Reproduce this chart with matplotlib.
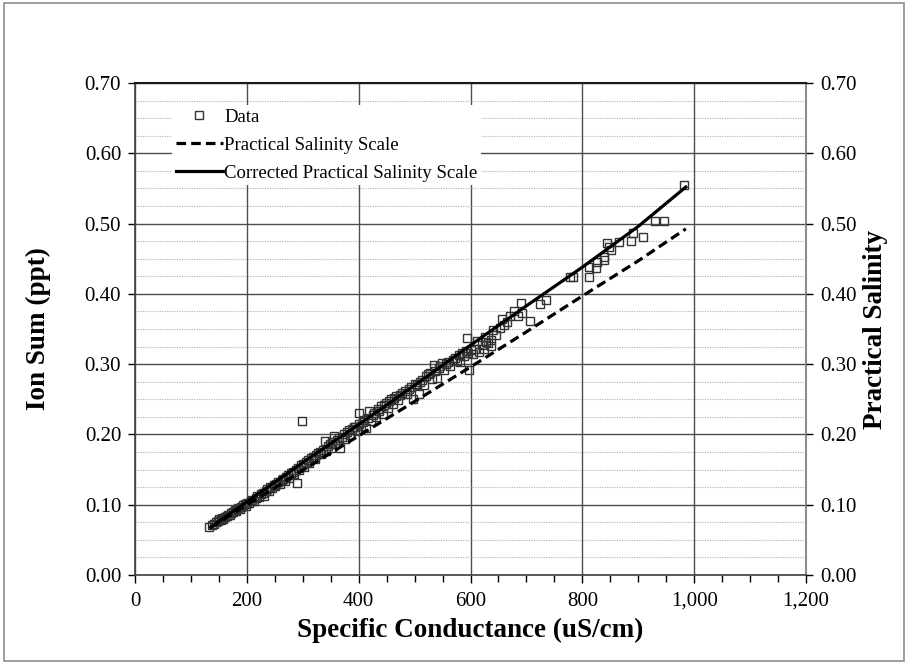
import matplotlib
matplotlib.use("Agg")
import matplotlib.pyplot as plt
from matplotlib.ticker import MultipleLocator, FuncFormatter
from matplotlib.patches import Rectangle

plt.rcParams['font.family'] = ['Liberation Serif', 'DejaVu Serif']

# Measured samples: specific conductance (uS/cm) and ion sum (ppt)
sc = [133, 138, 142, 145, 148, 150, 153, 156, 158, 161, 164, 167, 170, 172, 175,
      178, 181, 184, 187, 190, 193, 196, 198, 201, 204, 207, 210, 213, 216, 219,
      222, 225, 228, 231, 234, 236, 239, 242, 245, 248, 250, 253, 256, 259, 262,
      265, 268, 270, 273, 276, 279, 282, 285, 288, 289, 291, 294, 297, 299, 300,
      303, 306, 309, 312, 315, 318, 321, 324, 327,
      330, 333, 336, 339, 342, 345, 348, 350, 353, 355, 358, 361, 364, 367, 370,
      373, 376, 379, 382, 385, 388, 391, 394, 397, 400, 401, 404, 407, 410, 413,
      416, 419, 422, 425, 428, 431, 434, 437, 440, 443, 446, 449, 452, 455, 458,
      461, 464, 467, 470, 474, 477,
      482, 486, 490, 494, 498, 501, 504, 507, 510, 514, 517, 520, 524, 528, 531,
      534, 537, 540, 543, 546, 549, 552, 556, 560, 564, 568, 572, 576, 580, 581,
      585, 589, 592, 594, 596, 598, 600, 604, 608,
      612, 616, 620, 624, 626, 628, 632, 636, 636, 640, 645, 653, 656, 660, 665,
      670, 677, 685, 690, 692, 707, 724, 735,
      778, 784, 811, 812, 825, 826, 838, 839, 844, 848, 852, 866, 887, 890, 909,
      930, 946, 981]
ion = [0.068, 0.071, 0.073, 0.075, 0.077, 0.079, 0.078, 0.081, 0.080, 0.083, 0.084, 0.086, 0.085, 0.088, 0.089,
       0.092, 0.091, 0.095, 0.094, 0.097, 0.099, 0.101, 0.098, 0.103, 0.102, 0.105, 0.107, 0.106, 0.110, 0.112,
       0.111, 0.115, 0.117, 0.113, 0.120, 0.122, 0.119, 0.125, 0.124, 0.128, 0.126, 0.130, 0.132, 0.129, 0.135,
       0.137, 0.134, 0.140, 0.142, 0.138, 0.145, 0.147, 0.144, 0.150, 0.131, 0.152, 0.149, 0.156, 0.219, 0.158,
       0.154, 0.161, 0.163, 0.160, 0.166, 0.168, 0.165, 0.171, 0.173,
       0.175, 0.172, 0.178, 0.190, 0.176, 0.183, 0.186, 0.181, 0.189, 0.198, 0.187, 0.192, 0.195, 0.181, 0.197,
       0.201, 0.194, 0.203, 0.206, 0.199, 0.208, 0.211, 0.210, 0.205, 0.215, 0.230, 0.212, 0.218, 0.221, 0.209,
       0.224, 0.234, 0.219, 0.228, 0.231, 0.225, 0.236, 0.233, 0.240, 0.229, 0.242, 0.245, 0.238, 0.247, 0.250,
       0.244, 0.252, 0.255, 0.249, 0.256, 0.259,
       0.262, 0.258, 0.265, 0.268, 0.251, 0.272, 0.270, 0.258, 0.275, 0.278, 0.270, 0.283, 0.286, 0.287, 0.279,
       0.299, 0.290, 0.280, 0.294, 0.297, 0.301, 0.291, 0.300, 0.303, 0.298, 0.306, 0.309, 0.304, 0.313, 0.303,
       0.316, 0.311, 0.319, 0.337, 0.316, 0.292, 0.320, 0.315, 0.322,
       0.333, 0.318, 0.327, 0.322, 0.339, 0.331, 0.330, 0.326, 0.335, 0.348, 0.341, 0.351, 0.364, 0.355, 0.360,
       0.368, 0.375, 0.368, 0.387, 0.373, 0.361, 0.386, 0.391,
       0.424, 0.424, 0.424, 0.438, 0.437, 0.446, 0.448, 0.453, 0.473, 0.466, 0.462, 0.474, 0.475, 0.487, 0.481,
       0.504, 0.504, 0.555]

# Salinity curves evaluated over the measured conductance range
curve_sc = [135, 200, 300, 400, 500, 600, 700, 800, 900, 985]
pss = [0.0675, 0.0995, 0.149, 0.198, 0.247, 0.296, 0.346, 0.397, 0.447, 0.4925]
pss_corrected = [0.068, 0.104, 0.160, 0.214, 0.270, 0.327, 0.383, 0.438, 0.496, 0.552]

fig = plt.figure(figsize=(9.08, 6.64), dpi=100)
fig.patches.append(Rectangle((0.004, 0.005), 0.992, 0.99, transform=fig.transFigure,
                             fill=False, edgecolor='#8c8c8c', linewidth=1.2))

ax = fig.add_axes([0.1487, 0.134, 0.739, 0.741])
ax.set_xlim(0, 1200)
ax.set_ylim(0, 0.70)
ax.set_axisbelow(True)

ax.xaxis.set_major_locator(MultipleLocator(200))
ax.xaxis.set_minor_locator(MultipleLocator(50))
ax.yaxis.set_major_locator(MultipleLocator(0.1))
ax.yaxis.set_minor_locator(MultipleLocator(0.025))
ax.xaxis.set_major_formatter(FuncFormatter(lambda v, p: f"{int(v):,}"))
ax.yaxis.set_major_formatter(FuncFormatter(lambda v, p: f"{v:.2f}"))

ax.grid(which='major', axis='both', color='#4d4d4d', linewidth=1.0, linestyle='-')
ax.grid(which='minor', axis='y', color='#b0b0b0', linewidth=0.8, linestyle=(0, (1, 1.2)))

ax.tick_params(axis='x', which='major', direction='out', length=6, width=1, labelsize=15, pad=6)
ax.tick_params(axis='x', which='minor', direction='out', length=5, width=1)
ax.tick_params(axis='y', which='major', direction='out', length=5, width=1, labelsize=15, pad=5)
ax.tick_params(axis='y', which='minor', length=0)

for side in ('left', 'bottom'):
    ax.spines[side].set_color('#404040')
    ax.spines[side].set_linewidth(1.2)
ax.spines['top'].set_color('#1a1a1a')
ax.spines['top'].set_linewidth(1.5)
ax.spines['right'].set_color('#8c8c8c')
ax.spines['right'].set_linewidth(1.5)

ax.plot(sc, ion, linestyle='none', marker='s', markersize=5.2, markerfacecolor='none',
        markeredgecolor='#333333', markeredgewidth=1.0, label='Data', zorder=3)
ax.plot(curve_sc, pss, color='black', linewidth=2.3, dashes=(3, 1.6),
        label='Practical Salinity Scale', zorder=4)
ax.plot(curve_sc, pss_corrected, color='black', linewidth=2.3,
        label='Corrected Practical Salinity Scale', zorder=4)

ax.set_xlabel('Specific Conductance (uS/cm)', fontsize=19.5, fontweight='bold', labelpad=5)
ax.set_ylabel('Ion Sum (ppt)', fontsize=19.5, fontweight='bold', labelpad=24)

leg = ax.legend(loc='upper left', bbox_to_anchor=(0.055, 0.956), fontsize=13.5,
                frameon=True, fancybox=False, framealpha=1, borderpad=0.2,
                handlelength=2.5, handletextpad=0.1, labelspacing=0.58, borderaxespad=0)
leg.get_frame().set_facecolor('white')
leg.get_frame().set_edgecolor('none')

ax2 = ax.twinx()
ax2.set_ylim(0, 0.70)
ax2.yaxis.set_major_locator(MultipleLocator(0.1))
ax2.yaxis.set_major_formatter(FuncFormatter(lambda v, p: f"{v:.2f}"))
ax2.tick_params(axis='y', direction='out', length=5, width=1, labelsize=15, pad=5)
for sp in ax2.spines.values():
    sp.set_visible(False)
ax2.set_ylabel('Practical Salinity', fontsize=19.5, fontweight='bold', labelpad=5)

fig.savefig('out.png', dpi=100)
